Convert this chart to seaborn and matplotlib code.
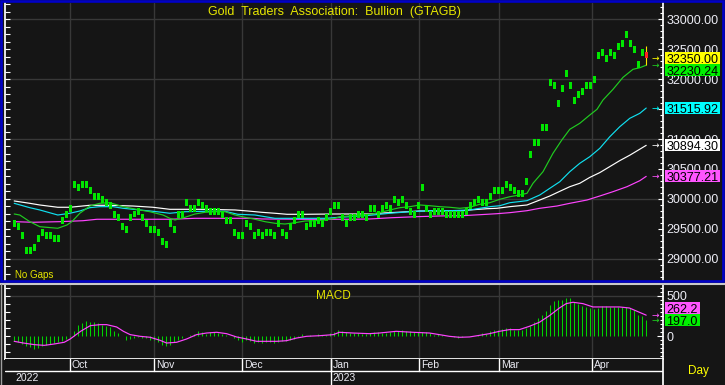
import numpy as np
import matplotlib
matplotlib.use("Agg")
import matplotlib.pyplot as plt
import matplotlib.transforms as mtransforms
from matplotlib.patches import Rectangle
from matplotlib.lines import Line2D
from matplotlib.ticker import MultipleLocator, FuncFormatter
import seaborn as sns

# ---------------- data ----------------
title = "Gold  Traders  Association:  Bullion  (GTAGB)"

# daily closes (trading-day index 0 .. 157), last day drawn as a candle
close = [29595, 29545, 29395, 29138, 29138, 29195, 29345, 29438, 29395, 29395,
         29345, 29345, 29638, 29738, 29845, 30238, 30195, 30238, 30238, 30138,
         30038, 30038, 29988, 29945, 29895, 29738, 29695, 29545, 29495, 29695,
         29750, 29795, 29695, 29595, 29495, 29495, 29438, 29288, 29245,
         29595, 29495, 29738, 29738, 29945, 29845, 29845, 29945, 29895, 29845,
         29788, 29788, 29788, 29738, 29638, 29638, 29445, 29395, 29395, 29595,
         29538, 29395, 29445, 29395, 29445, 29445, 29395, 29595, 29445, 29395,
         29538, 29638, 29738, 29738, 29538, 29595, 29595, 29638, 29595, 29695,
         29788, 29895,
         29895, 29688, 29595, 29688, 29688, 29738, 29738, 29688, 29838, 29838,
         29738, 29838, 29895, 29838, 29988, 29938, 29988, 29895, 29795, 29738,
         29895, 30195, 29838, 29738, 29795, 29795, 29795, 29738, 29738, 29738,
         29738, 29738, 29795, 29895, 29938, 29988, 29938, 29938, 30038, 30138,
         30138,
         30138, 30238, 30188, 30138, 30088, 30088, 30288, 30738, 30938, 30938,
         31188, 31188, 31938, 31895, 31595, 31838, 32088, 31895, 31638, 31738,
         31788, 31895, 31895, 31995, 32395, 32438, 32338, 32438, 32395, 32538,
         32595, 32745, 32595, 32495, 32238, 32438]
last_open, last_high, last_low, last_close = 32450, 32550, 32238, 32350

# moving averages (sampled points: trading-day index, value)
ma_green_x = [0, 1.4, 3.9, 6.4, 10.9, 13.2, 14.4, 16.4, 18.9, 21.4, 23.9, 27.2, 31.4, 33.9,
              37.2, 38.9, 40.2, 42.7, 45.2, 47.7, 50.2, 52.7, 55.2, 57.7, 60.2, 62.7, 65.2,
              67.7, 70.2, 72.7, 75.2, 77.7, 80.2, 81.4, 83.9, 86.4, 88.9, 91.4, 93.9, 96.4,
              98.9, 101.4, 103.9, 106.4, 108.9, 111.4, 113.9, 116.4, 118.9, 121.4, 123.9,
              126.4, 128.2, 129.7, 132.2, 134.7, 136.9, 138.9, 141.4, 143.9, 145.7, 147.2,
              149.7, 152.2, 154.7, 156.4, 158]
ma_green_y = [29750, 29733, 29622, 29538, 29512, 29567, 29622, 29762, 29883, 29928, 29938,
              29872, 29817, 29788, 29733, 29678, 29650, 29695, 29750, 29778, 29788, 29788,
              29733, 29695, 29662, 29622, 29595, 29583, 29605, 29633, 29638, 29650, 29678,
              29705, 29717, 29728, 29745, 29772, 29817, 29855, 29872, 29900, 29888, 29872,
              29862, 29845, 29862, 29912, 29938, 29995, 30038, 30067, 30095, 30262, 30455,
              30762, 30983, 31162, 31262, 31400, 31495, 31650, 31828, 32028, 32162, 32188,
              32230.24]

ma_cyan_x = [0, 3.9, 6.4, 10.9, 13.9, 16.4, 18.9, 21.4, 24.7, 27.2, 31.4, 35.7, 38.9, 42.7,
             47.7, 52.7, 55.9, 60.2, 62.7, 65.2, 72.7, 77.7, 80.2, 83.9, 88.9, 93.9, 98.9,
             103.9, 108.9, 113.9, 116.4, 118.9, 121.4, 123.9, 128.2, 131.4, 133.9, 136.4,
             138.9, 141.4, 143.9, 146.4, 148.9, 151.4, 153.9, 156.4, 158]
ma_cyan_y = [29928, 29855, 29817, 29733, 29762, 29800, 29855, 29872, 29872, 29845, 29817,
             29788, 29762, 29788, 29795, 29795, 29745, 29733, 29705, 29678, 29678, 29678,
             29690, 29705, 29728, 29762, 29788, 29805, 29805, 29817, 29845, 29872, 29888,
             29938, 29972, 30067, 30178, 30288, 30455, 30595, 30705, 30845, 31038, 31205,
             31345, 31428, 31515.92]

ma_white_x = [0, 3.9, 6.4, 10.9, 13.9, 18.9, 23.9, 29.7, 34.7, 38.9, 42.7, 47.7, 55.2, 58.4,
              61.9, 65.2, 68.2, 72.7, 80.2, 88.9, 92.2, 95.7, 101.4, 106.4, 112.2, 113.9,
              118.2, 120.7, 123.9, 128.2, 131.4, 133.9, 136.4, 138.9, 141.4, 143.9, 146.4,
              148.9, 151.4, 153.9, 156.4, 158]
ma_white_y = [29967, 29928, 29900, 29862, 29862, 29895, 29895, 29883, 29862, 29828, 29828,
              29828, 29817, 29800, 29778, 29762, 29745, 29745, 29750, 29750, 29767, 29778,
              29800, 29800, 29805, 29817, 29838, 29845, 29872, 29900, 29983, 30050, 30128,
              30205, 30262, 30360, 30440, 30540, 30640, 30730, 30830, 30894.30]

ma_magenta_x = [0, 4.7, 11.4, 17.2, 20.7, 29.7, 38.9, 45.2, 54.4, 59.4, 61.9, 72.7, 80.2,
                83.9, 88.9, 94.4, 100.7, 106.4, 112.2, 118.2, 120.7, 123.9, 128.2, 131.4,
                135.7, 138.9, 143.2, 146.4, 149.7, 153.2, 156.4, 158]
ma_magenta_y = [29622, 29612, 29622, 29638, 29662, 29662, 29662, 29678, 29678, 29678, 29667,
                29662, 29662, 29662, 29667, 29688, 29705, 29717, 29722, 29745, 29755, 29772,
                29805, 29845, 29883, 29928, 29983, 30050, 30122, 30205, 30305, 30377.21]

# MACD histogram (one value per trading day) and signal line samples
macd_hist = [-62, -74, -91, -116, -136, -153, -145, -116, -103, -95,
             -83, -74, -62, -33, -10, 70, 141, 165, 190, 182,
             174, 165, 141, 132, 116, 62, 41, 8, -41, -33,
             -21, -12, -21, -25, -50, -50, -74, -107, -124, -107,
             -74, -50, -21, 8, 21, 33, 62, 54, 33, 50,
             50, 41, 29, 12, 0, -21, -41, -74, -50, -62,
             -83, -74, -83, -74, -74, -83, -74, -62, -54, -41,
             -33, -8, 29, 8, 12, 8, 29, 12, 21,
             41, 54, 74, 62, 50, 41, 41, 41, 33, 33,
             41, 50, 50, 41, 41, 58, 62, 70, 74, 62,
             62, 50, 50, 54, 54, 41, 21, 33, 21, 8,
             0, -8, -21, -8, 0, 0, 8, 21, 41, 33,
             62, 83, 83, 91, 103, 103, 83, 83, 74, 103,
             132, 174, 227, 269, 310, 384, 434, 446, 455, 475,
             475, 422, 405, 380, 364, 351, 339, 351, 372, 372,
             364, 364, 364, 364, 364, 351, 322, 269, 248, 197.0]
signal_x = [0, 2.3, 5, 7.5, 10, 12.5, 14, 16.6, 19, 21.5, 23.1, 25.6, 27.3, 29, 31.5, 34,
            36.5, 38.1, 40.6, 43.1, 45.6, 48.1, 50.6, 53.1, 55.6, 58.1, 60.6, 63.1, 65.6,
            68.1, 70.6, 73.1, 76.4, 79.8, 81.3, 84.7, 88.8, 91.3, 95.5, 99.7, 103.8, 106.3,
            108.8, 111.3, 113.8, 116.3, 118.8, 121.3, 123.8, 126.3, 128.8, 131.3, 133.8,
            136.3, 138, 139.7, 142.2, 144.7, 148, 151.3, 153.8, 156.3, 158]
signal_y = [-62, -83, -103, -112, -95, -74, -33, 62, 132, 145, 145, 116, 62, 21, 0, -12,
            -50, -83, -74, -33, 21, 41, 50, 33, -8, -33, -62, -62, -62, -54, -21, 0, 8, 21,
            50, 41, 33, 41, 62, 50, 41, 21, 0, -12, -8, 12, 33, 62, 83, 83, 124, 174, 256,
            351, 405, 422, 405, 364, 364, 364, 351, 298, 262.2]

month_pos = [13.9, 34.9, 56.9, 79.2, 101.2, 121.2, 144.4]
month_labels = ["Oct", "Nov", "Dec", "Jan", "Feb", "Mar", "Apr"]
year_pos = [0, 79.2]
year_labels = ["2022", "2023"]

# ---------------- style ----------------
W, H = 725, 385
BG = "#151515"
GRID = "#383838"
YEL = "#e6e600"
TXT = "#ececf4"
BAR_G = "#00e600"

sns.set_theme(style="dark")
plt.rcParams.update({
    "figure.facecolor": BG, "axes.facecolor": BG, "savefig.facecolor": BG,
    "axes.edgecolor": "white", "text.color": TXT,
    "xtick.color": "white", "ytick.color": "white",
})
plt.rcParams["font.family"] = ["Liberation Sans", "DejaVu Sans"]

fig = plt.figure(figsize=(W / 100, H / 100), dpi=100)


def box(l, t, r, b):
    return [l / W, 1 - b / H, (r - l) / W, (b - t) / H]


def fp(x, y):
    return x / W, 1 - y / H


XL = (-2.3, 162.2)
ax = fig.add_axes(box(5, 3, 663, 279.5))
axm = fig.add_axes(box(5, 285, 663, 359))
axd = fig.add_axes(box(5, 359, 663, 385))
for a in (ax, axm, axd):
    a.set_facecolor(BG)
    a.set_xlim(*XL)
    a.grid(False)
    for s in a.spines.values():
        s.set_visible(False)
    a.tick_params(axis="x", which="both", bottom=False, top=False,
                  labelbottom=False)

# ---------------- price panel ----------------
ax.set_ylim(28658, 33267)
for v in range(29000, 33001, 1000):
    ax.axhline(v, color=GRID, lw=1.0, zorder=0)
for m in month_pos:
    ax.axvline(m, color=GRID, lw=1.0, zorder=0)

idx = np.arange(len(close))
block = 108
ax.bar(idx, block, bottom=np.array(close) - block / 2, width=0.78,
       color=BAR_G, linewidth=0, zorder=3)
li = len(close)
ax.vlines(li, last_low, last_high, color="#ffe600", lw=0.8, zorder=4)
ax.bar([li], [last_open - last_close], bottom=[last_close], width=0.78,
       color="#ff2020", linewidth=0, zorder=5)

for xs, ys, col in [(ma_magenta_x, ma_magenta_y, "#ff44ff"),
                    (ma_white_x, ma_white_y, "#ffffff"),
                    (ma_cyan_x, ma_cyan_y, "#10e0f0"),
                    (ma_green_x, ma_green_y, "#20cc20")]:
    sns.lineplot(x=xs, y=ys, ax=ax, color=col, lw=0.85, estimator=None,
                 sort=False, legend=False, zorder=2)

# value tags (price panel)
px_per_unit = 276.5 / (33267 - 28658)
tag_h = 12 / px_per_unit
tags = [(last_close, "#ffff00"), (ma_green_y[-1], "#00f000"),
        (ma_cyan_y[-1], "#00ffff"), (ma_white_y[-1], "#ffffff"),
        (ma_magenta_y[-1], "#ff55ff")]
tag_pos = []
prev = None
for val, col in tags:
    pos = val if prev is None else min(val, prev - tag_h)
    prev = pos
    tag_pos.append(pos)


def price_fmt(v, _):
    # tick labels fully hidden behind a value tag are left blank
    for p in tag_pos:
        if abs(v - p) < tag_h * 0.35:
            return ""
    return f"{v:.2f}"


ax.spines["right"].set_visible(True)
ax.spines["right"].set_color("white")
ax.yaxis.tick_right()
ax.yaxis.set_major_locator(MultipleLocator(500))
ax.yaxis.set_minor_locator(MultipleLocator(100))
ax.yaxis.set_major_formatter(FuncFormatter(price_fmt))
ax.tick_params(axis="y", which="both", direction="in", right=True, left=False,
               labelright=True, labelleft=False, colors="white", width=0.8)
ax.tick_params(axis="y", which="major", length=3.5, pad=2.5, labelsize=9,
               labelcolor=TXT)
ax.tick_params(axis="y", which="minor", length=2.5)
ax.set_xlabel("")
ax.set_ylabel("")
secl = ax.secondary_yaxis("left")
secl.yaxis.set_major_locator(MultipleLocator(125))
secl.tick_params(direction="in", length=3.5, width=0.8, colors="white",
                 labelleft=False)
secl.spines["left"].set_color("white")

trans = mtransforms.blended_transform_factory(ax.transAxes, ax.transData)
x0 = (665 - 5) / 658
x1 = (720 - 5) / 658
for (val, col), pos in zip(tags, tag_pos):
    ax.add_patch(Rectangle((x0, pos - tag_h / 2), x1 - x0, tag_h,
                           transform=trans, facecolor=col, edgecolor="none",
                           clip_on=False, zorder=6))
    ax.text(x0 + 0.002, pos, f"{val:.2f}", transform=trans, ha="left",
            va="center_baseline", fontsize=9, color="black", zorder=7,
            clip_on=False)
    ax.text(160.2, val, "\u2192", ha="center", va="center", fontsize=6.5,
            color=col if col != "#00f000" else "#20d020", family="DejaVu Sans",
            zorder=6)

# ---------------- MACD panel ----------------
axm.set_ylim(-281, 636)
axm.axhline(500, color=GRID, lw=1.0, zorder=0)
for m in month_pos:
    axm.axvline(m, color=GRID, lw=1.0, zorder=0)
hidx = np.arange(len(macd_hist))
axm.vlines(hidx, 0, macd_hist, color="#00d400", lw=0.75, zorder=2)
sns.lineplot(x=signal_x, y=signal_y, ax=axm, color="#ff44ff", lw=0.85,
             estimator=None, sort=False, legend=False, zorder=3)
axm.set_xlabel("")
axm.set_ylabel("")
axm.spines["right"].set_visible(True)
axm.spines["right"].set_color("white")
axm.spines["bottom"].set_visible(True)
axm.spines["bottom"].set_color("white")
axm.yaxis.tick_right()
axm.yaxis.set_major_locator(MultipleLocator(500))
axm.yaxis.set_minor_locator(MultipleLocator(50))
axm.yaxis.set_major_formatter(FuncFormatter(lambda v, _: f"{v:.0f}"))
axm.tick_params(axis="y", which="both", direction="in", right=True,
                left=False, labelright=True, labelleft=False, colors="white",
                width=0.8)
axm.tick_params(axis="y", which="major", length=4, pad=2.5, labelsize=9,
                labelcolor=TXT)
axm.tick_params(axis="y", which="minor", length=2.5)
secm = axm.secondary_yaxis("left")
secm.yaxis.set_major_locator(MultipleLocator(100))
secm.tick_params(direction="in", length=3.5, width=0.8, colors="white",
                 labelleft=False)
secm.spines["left"].set_color("white")

m_px_per_unit = 74 / (636 + 281)
m_tag_h = 12 / m_px_per_unit
transm = mtransforms.blended_transform_factory(axm.transAxes, axm.transData)
sig_last, hist_last = signal_y[-1], macd_hist[-1]
sig_pos = max(sig_last, hist_last + m_tag_h)
for val, pos, col, acol in [(sig_last, sig_pos, "#ff55ff", "#ff55ff"),
                            (hist_last, hist_last, "#00f000", "#20d020")]:
    axm.add_patch(Rectangle((x0, pos - m_tag_h / 2), (700 - 665) / 658, m_tag_h,
                            transform=transm, facecolor=col, edgecolor="none",
                            clip_on=False, zorder=6))
    axm.text(x0 + 0.002, pos, f"{val:.1f}", transform=transm, ha="left",
             va="center_baseline", fontsize=9, color="black", zorder=7,
             clip_on=False)
    axm.text(160.2, val, "\u2192", ha="center", va="center", fontsize=6.5,
             color=acol, family="DejaVu Sans", zorder=6)

# ---------------- date axis ----------------
axd.set_ylim(0, 1)
axd.tick_params(axis="y", left=False, right=False, labelleft=False,
                labelright=False)
axd.spines["right"].set_visible(True)
axd.spines["right"].set_color("white")
axd.axhline(0.54, color="white", lw=1.0)
for m, lab in zip(month_pos, month_labels):
    axd.plot([m, m], [0.54, 1.0], color="white", lw=1.0)
    axd.text(m + 0.5, 0.77, lab, ha="left", va="center", fontsize=7.5,
             color=TXT)
for yp, lab in zip(year_pos, year_labels):
    if yp > XL[0] + 3:
        axd.plot([yp, yp], [0.0, 1.0], color="white", lw=1.0)
    axd.text(yp + 0.4, 0.28, lab, ha="left", va="center", fontsize=7.5,
             color=TXT)

# ---------------- frame & captions ----------------
fig.add_artist(Rectangle(fp(1.2, 280.6), 721.4 / W, 279.4 / H,
                         transform=fig.transFigure, fill=False,
                         edgecolor="#0000c8", lw=1.9, zorder=10))
fig.add_artist(Line2D([0, 1], [1 - 284 / H] * 2, transform=fig.transFigure,
                      color="#c8c8c8", lw=1.5, zorder=10))
fig.add_artist(Line2D([0.6 / W] * 2, [0, 1 - 284 / H],
                      transform=fig.transFigure, color="#a0a0a0", lw=1.0,
                      zorder=10))

fig.text(*fp(334, 12), title, ha="center", va="center", fontsize=9,
         color=YEL, zorder=11)
fig.text(*fp(15, 274.5), "No Gaps", ha="left", va="center", fontsize=7,
         color=YEL, zorder=11)
fig.text(*fp(333, 296), "MACD", ha="center", va="center", fontsize=8.5,
         color=YEL, zorder=11)
fig.text(*fp(688, 371), "Day", ha="left", va="center", fontsize=8.5,
         color="#ffff00", zorder=11)

fig.savefig("out.png", dpi=100, facecolor=BG)
